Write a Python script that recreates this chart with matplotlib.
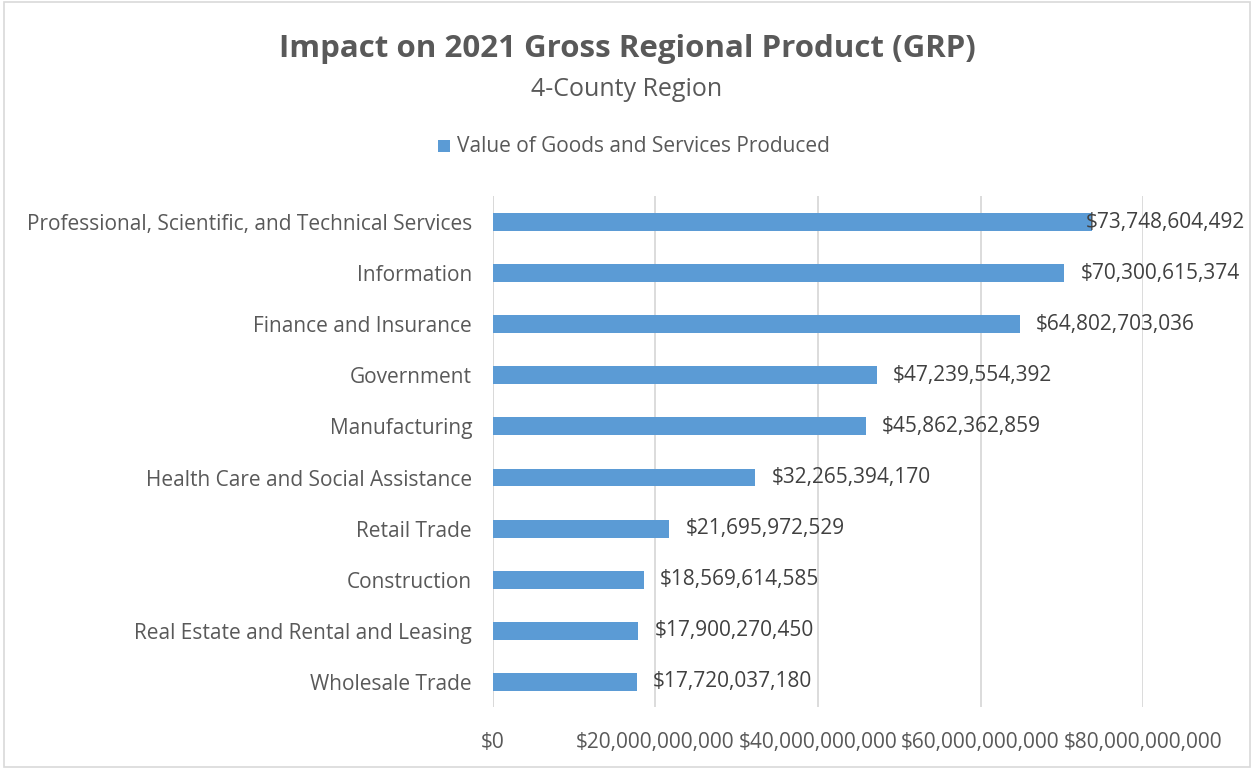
import matplotlib.pyplot as plt
from matplotlib.patches import Rectangle
from matplotlib.ticker import FuncFormatter

plt.rcParams['font.family'] = ['Open Sans', 'DejaVu Sans']

industries = [
    "Professional, Scientific, and Technical Services",
    "Information",
    "Finance and Insurance",
    "Government",
    "Manufacturing",
    "Health Care and Social Assistance",
    "Retail Trade",
    "Construction",
    "Real Estate and Rental and Leasing",
    "Wholesale Trade",
]
grp_values = [
    73748604492,
    70300615374,
    64802703036,
    47239554392,
    45862362859,
    32265394170,
    21695972529,
    18569614585,
    17900270450,
    17720037180,
]
x_ticks = [0, 20e9, 40e9, 60e9, 80e9]

BAR = '#5b9bd5'
TXT = '#595959'
GRID = '#d9d9d9'
FS = 15

fig = plt.figure(figsize=(12.54, 7.69), dpi=100)
ax = fig.add_axes([0.3931, 0.080, 0.5184, 0.6645])

# outer chart border
fig.patches.append(Rectangle((0.003, 0.002), 0.994, 0.995, transform=fig.transFigure,
                             fill=False, edgecolor=GRID, linewidth=1.2))

ypos = list(range(len(industries)))
ax.barh(ypos, grp_values, height=0.35, color=BAR, zorder=3)

ax.set_ylim(len(industries) - 0.5, -0.5)
ax.set_xlim(0, 80e9)
ax.set_yticks(ypos)
ax.set_yticklabels(industries, fontsize=FS, color=TXT)
ax.set_xticks(x_ticks)
ax.xaxis.set_major_formatter(FuncFormatter(lambda v, p: f"${v:,.0f}"))
ax.tick_params(axis='x', labelsize=FS, labelcolor=TXT, length=0, pad=18)
ax.tick_params(axis='y', length=0, pad=15)
ax.grid(axis='x', color=GRID, linewidth=1.3, zorder=0)
for s in ax.spines.values():
    s.set_visible(False)
ax.axvline(0, color=GRID, linewidth=1.3, zorder=2)

# value labels, pulled back inside the chart if they run past the right edge
renderer = fig.canvas.get_renderer()
right_px = 1245
for y, v in zip(ypos, grp_values):
    t = ax.text(v + 2.0e9, y, f"${v:,.0f}", va='center', ha='left',
                fontsize=FS, color='#404040', zorder=4)
    bb = t.get_window_extent(renderer)
    if bb.x1 > right_px:
        x0 = ax.transData.inverted().transform((bb.x0 - (bb.x1 - right_px), 0))[0]
        t.set_x(x0)

fig.text(0.5, 0.936, "Impact on 2021 Gross Regional Product (GRP)", ha='center', va='center',
         fontsize=22.5, fontweight='bold', color=TXT)
fig.text(0.5, 0.884, "4-County Region", ha='center', va='center', fontsize=18, color=TXT)

# legend
fig.patches.append(Rectangle((0.3495, 0.802), 0.0095, 0.016, transform=fig.transFigure,
                             facecolor=BAR, edgecolor='none'))
fig.text(0.3645, 0.810, "Value of Goods and Services Produced", ha='left', va='center',
         fontsize=FS, color=TXT)

fig.savefig('out.png', dpi=100, facecolor='white')
